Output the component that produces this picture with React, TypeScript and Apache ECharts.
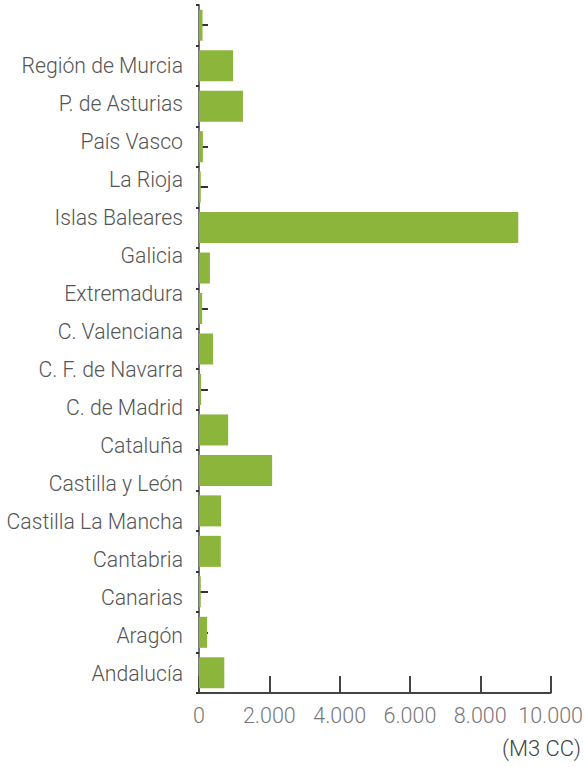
import React, { useEffect, useRef } from "react";
import * as echarts from "echarts";

// Categories from bottom to top
const categories = [
  "Andalucía",
  "Aragón",
  "Canarias",
  "Cantabria",
  "Castilla La Mancha",
  "Castilla y León",
  "Cataluña",
  "C. de Madrid",
  "C. F. de Navarra",
  "C. Valenciana",
  "Extremadura",
  "Galicia",
  "Islas Baleares",
  "La Rioja",
  "País Vasco",
  "P. de Asturias",
  "Región de Murcia",
];

const values = [720, 230, 50, 620, 630, 2080, 830, 60, 400, 90, 310, 9080, 50, 110, 1250, 970, 100];

const xTicks = [0, 2000, 4000, 6000, 8000, 10000];
const unitLabel = "(M3 CC)";

const FONT = "Roboto, 'Liberation Sans', Arial, sans-serif";

function fmt(v: number): string {
  return String(v).replace(/\B(?=(\d{3})+(?!\d))/g, ".");
}

export default function App() {
  const ref = useRef<HTMLDivElement>(null);

  useEffect(() => {
    document.body.style.margin = "0";
    if (!ref.current) return;
    const chart = echarts.init(ref.current, null, { renderer: "svg" });
    const xMin = xTicks[0];
    const xMax = xTicks[xTicks.length - 1];
    const xInterval = xTicks[1] - xTicks[0];
    chart.setOption({
      animation: false,
      backgroundColor: "#ffffff",
      grid: [
        { left: 199, width: 352, top: 5, height: 688, containLabel: false },
        { left: 199, width: 352, top: 47, height: 645, containLabel: false },
      ],
      xAxis: [
        {
          type: "value",
          gridIndex: 0,
          min: xMin,
          max: xMax,
          interval: xInterval,
          axisLine: { show: true, lineStyle: { color: "#444", width: 2 } },
          axisTick: { show: true, inside: true, length: 17, lineStyle: { color: "#444", width: 2 } },
          splitLine: { show: false },
          axisLabel: {
            show: true,
            margin: 11,
            fontSize: 21.5,
            fontWeight: 300,
            color: "#777",
            fontFamily: FONT,
            formatter: (v: number) => fmt(v),
          },
        },
        {
          type: "value",
          gridIndex: 1,
          min: xMin,
          max: xMax,
          show: false,
        },
      ],
      yAxis: [
        {
          type: "category",
          gridIndex: 0,
          data: categories,
          position: "left",
          axisLine: { show: true, lineStyle: { color: "#777", width: 2 } },
          axisTick: { show: true, inside: false, length: 3, lineStyle: { color: "#333", width: 2 } },
          axisLabel: { show: false },
          splitLine: { show: false },
        },
        {
          type: "category",
          gridIndex: 0,
          data: categories,
          position: "left",
          offset: 0,
          axisLine: { show: false },
          axisTick: { show: true, inside: true, alignWithLabel: true, length: 9, lineStyle: { color: "#333", width: 2 } },
          axisLabel: { show: false },
          splitLine: { show: false },
        },
        {
          type: "category",
          gridIndex: 1,
          data: categories,
          position: "left",
          axisLine: { show: false },
          axisTick: { show: false },
          splitLine: { show: false },
          axisLabel: {
            show: true,
            margin: 16,
            fontSize: 21.2,
            fontWeight: 300,
            color: "#555",
            fontFamily: FONT,
          },
        },
      ],
      series: [
        {
          type: "bar",
          xAxisIndex: 0,
          yAxisIndex: 0,
          data: values,
          barWidth: 31,
          itemStyle: { color: "#8cb53c" },
          z: 5,
        },
        {
          type: "bar",
          xAxisIndex: 1,
          yAxisIndex: 2,
          data: [],
          silent: true,
        },
      ],
      graphic: [
        {
          type: "text",
          right: 5,
          top: 737,
          style: {
            text: unitLabel,
            fontSize: 22,
            fontWeight: 300,
            fill: "#444",
            fontFamily: FONT,
          },
        },
      ],
    });
    return () => chart.dispose();
  }, []);

  return <div ref={ref} style={{ width: 586, height: 767 }} />;
}
